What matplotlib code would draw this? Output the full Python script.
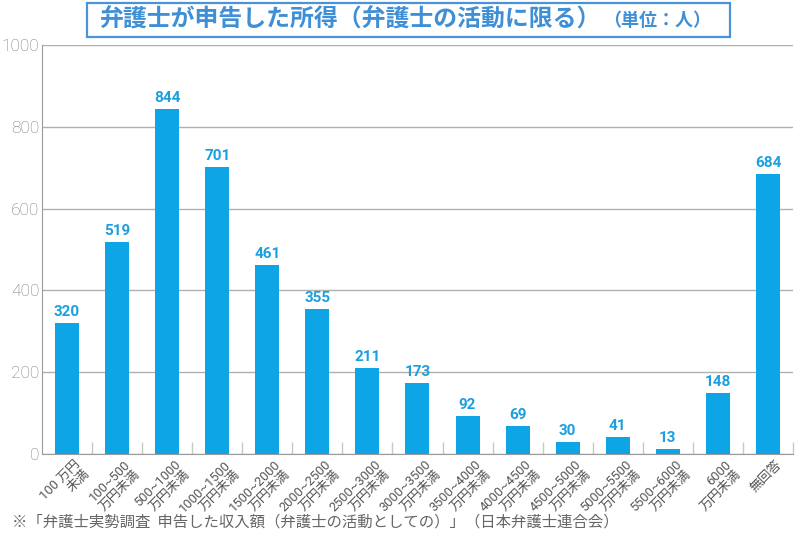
import matplotlib.pyplot as plt
import matplotlib.transforms as mtransforms
from matplotlib.patches import Rectangle

plt.rcParams['font.family'] = ['Noto Sans CJK JP', 'DejaVu Sans']

# data
categories = ['100 万円\n未満', '100~500\n万円未満', '500~1000\n万円未満', '1000~1500\n万円未満',
              '1500~2000\n万円未満', '2000~2500\n万円未満', '2500~3000\n万円未満', '3000~3500\n万円未満',
              '3500~4000\n万円未満', '4000~4500\n万円未満', '4500~5000\n万円未満', '5000~5500\n万円未満',
              '5500~6000\n万円未満', '6000\n万円未満', '無回答']
counts = [320, 519, 844, 701, 461, 355, 211, 173, 92, 69, 30, 41, 13, 148, 684]
yticks = [0, 200, 400, 600, 800, 1000]

bar_color = '#0ea5e6'
label_color = '#1b9fe0'
title_color = '#3f8fd6'

fig = plt.figure(figsize=(8.01, 5.33), dpi=100)
ax = fig.add_axes([0.0524, 0.1482, 0.9376, 0.7674])

x = list(range(len(categories)))
ax.bar(x, counts, width=0.48, color=bar_color, zorder=3)

for xi, v in zip(x, counts):
    ax.annotate(str(v), (xi, v), xytext=(0, 3), textcoords='offset points',
                ha='center', va='bottom', fontsize=11, fontweight='bold',
                color=label_color, family=['Roboto', 'DejaVu Sans'])

ax.set_xlim(-0.5, len(categories) - 0.5)
ax.set_ylim(0, 1000)
ax.set_yticks(yticks)
ax.set_yticklabels([str(t) for t in yticks], family=['Roboto', 'DejaVu Sans'],
                   fontsize=12.5, color='#7a7a7a', fontweight='light')
ax.tick_params(axis='y', length=0, pad=2)
ax.grid(axis='y', color='#b0b0b0', linewidth=1, zorder=0)

# category labels: Roboto for digits, Noto CJK for kana/kanji
ax.set_xticks(x)
ax.set_xticklabels(categories, rotation=45, ha='right', va='top', rotation_mode='anchor',
                   fontsize=9.3, color='#555555', linespacing=1.0,
                   family=['Roboto', 'Noto Sans CJK JP'])
ax.tick_params(axis='x', which='major', length=0, pad=3)
offset = mtransforms.ScaledTranslation(5 / 72, 0, fig.dpi_scale_trans)
for lbl in ax.get_xticklabels():
    lbl.set_transform(lbl.get_transform() + offset)

# separators between categories
ax.set_xticks([i + 0.5 for i in range(len(categories))], minor=True)
ax.tick_params(axis='x', which='minor', direction='in', length=9, width=1, color='#c8c8c8')

for s in ['top', 'right']:
    ax.spines[s].set_visible(False)
ax.spines['left'].set_color('#9a9a9a')
ax.spines['bottom'].set_color('#9a9a9a')

# title box
fig.patches.append(Rectangle((87 / 801, 1 - 37 / 533), (730 - 87) / 801, 34 / 533,
                             transform=fig.transFigure, fill=False,
                             edgecolor='#4a93da', linewidth=1.6))
fig.text(99 / 801, 1 - 20 / 533, '弁護士が申告した所得（弁護士の活動に限る）',
         ha='left', va='center', fontsize=17.2, fontweight='bold', color=title_color)
fig.text(711 / 801, 1 - 21 / 533, '（単位：人）', ha='right', va='center',
         fontsize=13, fontweight='bold', color=title_color)

fig.text(12 / 801, 1 - 522 / 533,
         '※「弁護士実勢調査  申告した収入額（弁護士の活動としての）」（日本弁護士連合会）',
         ha='left', va='center', fontsize=11.1, color='#666666')

fig.savefig('out.png', dpi=100)
